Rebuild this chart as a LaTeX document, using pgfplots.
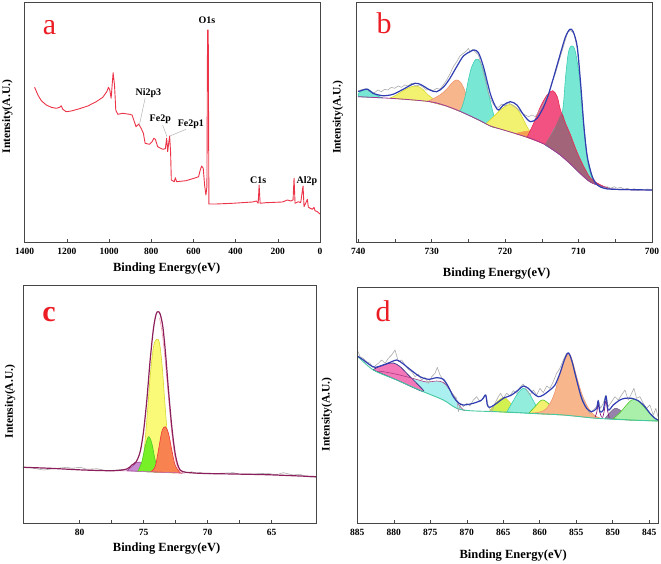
\documentclass[border=0pt]{standalone}
\usepackage{fontspec}
\setmainfont{Liberation Serif}
\usepackage{pgfplots}
\pgfplotsset{compat=1.18}

\definecolor{framegray}{RGB}{70,70,70}
\definecolor{surveyred}{RGB}{236,52,72}
\definecolor{lettred}{RGB}{236,28,36}
\definecolor{envblue}{RGB}{48,62,178}
\definecolor{rawgray}{RGB}{172,172,172}
\definecolor{bgpurple}{RGB}{160,60,150}
\definecolor{cyanfill}{RGB}{120,232,212}
\definecolor{cyanline}{RGB}{60,205,180}
\definecolor{yelfill}{RGB}{242,242,112}
\definecolor{yelline}{RGB}{215,215,50}
\definecolor{orfill}{RGB}{248,182,140}
\definecolor{orline}{RGB}{240,150,110}
\definecolor{or2fill}{RGB}{245,160,80}
\definecolor{pinkfill}{RGB}{242,82,130}
\definecolor{pinkline}{RGB}{232,40,80}
\definecolor{brownfill}{RGB}{162,100,120}
\definecolor{grfill}{RGB}{125,230,70}
\definecolor{grline}{RGB}{80,200,40}
\definecolor{cenv}{RGB}{140,30,90}
\definecolor{cpurp}{RGB}{200,140,210}
\definecolor{cgreen}{RGB}{120,240,40}
\definecolor{cyel}{RGB}{250,250,120}
\definecolor{cred}{RGB}{248,130,80}
\definecolor{credline}{RGB}{240,50,60}
\definecolor{dteal}{RGB}{70,200,160}
\definecolor{dpink}{RGB}{242,120,185}
\definecolor{dcyan}{RGB}{170,240,240}
\definecolor{dyg}{RGB}{210,240,80}
\definecolor{dmauve}{RGB}{150,130,170}
\definecolor{dgreen}{RGB}{170,240,170}
\definecolor{dspike}{RGB}{130,0,110}
\definecolor{dline}{RGB}{170,60,130}

\tikzset{
  letter/.style={anchor=base, text=lettred, font=\fontsize{30}{30}\selectfont},
  peak/.style={font=\bfseries\fontsize{10}{10}\selectfont},
}
\pgfplotsset{
  xps/.style={
    scale only axis, anchor=south west, x dir=reverse,
    ytick=\empty, xtick pos=bottom, axis on top,
    axis line style={draw=framegray, line width=0.9pt},
    tick style={draw=framegray, line width=0.6pt},
    tick align=inside, major tick length=3pt, minor tick length=3pt,
    ticklabel style={font=\bfseries\fontsize{9.5}{9.5}\selectfont},
    xticklabel style={yshift=-3pt},
    /pgf/number format/assume math mode=true,
    /pgf/number format/set thousands separator={},
    xlabel style={font=\bfseries\fontsize{12.5}{12.5}\selectfont, anchor=center},
    ylabel style={font=\bfseries\fontsize{11.5}{11.5}\selectfont, anchor=center},
    every axis plot/.append style={line join=round},
  },
  comp/.style={smooth, tension=0.55, line width=0.6pt},
}

\begin{document}
\begin{tikzpicture}
\path[use as bounding box] (0pt,0pt) rectangle (661pt,563pt);

% ---------------- a: survey ----------------
\begin{axis}[xps, at={(24pt,321pt)}, width=296pt, height=240pt,
  xmin=0, xmax=1403, ymin=0, ymax=240,
  xtick={0,200,...,1400},
  xlabel={Binding Energy(eV)}, ylabel={Intensity(A.U.)},
  xlabel style={at={(axis description cs:0.482,-0.110)}},
  ylabel style={at={(axis description cs:-0.056,0.522)}}]
\addplot[surveyred, line width=0.9pt] coordinates {
(1352.7,154.7)(1337,147)(1321,141.3)(1297.5,137)(1274,134.7)(1250,133.7)(1234,134.7)
(1226.6,136.3)(1219,132.7)(1203,130.3)(1179,131)(1140,133.3)(1100.5,136)(1061,140.3)
(1029.5,144.7)(1010.6,150.3)(1002.7,154.7)(996.4,152)(990,143.7)(980.6,169.3)(974,157)
(968,132)(958.6,127.7)(935,128.7)(903.4,127.7)(890.8,127)(880,120.3)(872,115.3)
(859.3,118)(848,113.7)(837,108.7)(829,98.7)(808.8,97.7)(796,100.3)(788,103.7)
(780.4,102.7)(769.4,95.3)(745.7,92.7)(733,93.3)(726.8,103.7)(722,90.3)(717.4,98.7)
(712.6,106)(708,88.7)(704.8,62)(690.6,60.3)(685.8,64.3)(679.5,60.3)(635.4,61.3)
(588,64.3)(575.5,65.3)(567.6,72)(561,76)(553.4,73.7)(547,57)(540.8,47)(536,55.3)
(533,212)(529.7,212)(526.6,38)(493.5,38)(414.7,38.7)(320,40)(301,41)(293,38.7)
(288.5,57)(283.8,38.7)(257,39.3)(178,40)(154.5,42)(138.7,41)(127.8,42)(123,63.7)
(118.3,38.7)(102.5,40.3)(91.5,39.3)(80.4,56)(75.7,35.3)(64.7,40.3)(60,42.7)(55.2,34.7)
(36.3,32.7)(28.4,34.7)(23.6,31.3)(12.7,30.3)(0,28)};
\addplot[gray!60, line width=0.5pt] coordinates {(829,143.7)(856,117)};
\addplot[gray!60, line width=0.5pt] coordinates {(746,117)(725,105.3)};
\addplot[gray!60, line width=0.5pt] coordinates {(635,112.7)(711,106)};
\node[peak] at (axis cs:536,221.3) {O1s};
\node[peak] at (axis cs:813.5,149.3) {Ni2p3};
\node[peak] at (axis cs:757,123) {Fe2p};
\node[peak] at (axis cs:612,118) {Fe2p1};
\node[peak] at (axis cs:293,62) {C1s};
\node[peak] at (axis cs:61.5,61) {Al2p};
\node[letter] at (axis description cs:0.086,0.865) {a};
\end{axis}

% ---------------- b: Fe 2p ----------------
\begin{axis}[xps, at={(356pt,321pt)}, width=296pt, height=240pt,
  xmin=700, xmax=740.3, ymin=0, ymax=240,
  xtick={700,710,...,740}, minor x tick num=1,
  xlabel={Binding Energy(eV)}, ylabel={Intensity(A.U.)},
  xlabel style={at={(axis description cs:0.475,-0.130)}},
  ylabel style={at={(axis description cs:-0.061,0.52)}}]
% small cyan
\addplot[comp, fill=cyanfill, draw=cyanline] coordinates {
(740,148)(739.36,152)(738.68,152.7)(737.99,149.3)(737.2,145.5)(736.8,144.2)(740,145.3)} -- cycle;
% yellow 732
\addplot[comp, fill=yelfill, draw=yelline] coordinates {
(735.71,143.7)(734.80,147)(733.89,151.3)(732.98,154.7)(732.16,156)(731.38,153.7)
(730.47,147)(729.56,142)(728.6,137.5)(730.2,140.3)(734.8,143.3)} -- cycle;
% green
\addplot[comp, fill=grfill, draw=grline] coordinates {
(730.24,140.3)(728.87,141.3)(727.51,142)(726.37,139.3)(725.23,135.3)(723.86,129.3)
(722.49,122)(721.4,114.5)(722.0,116)(723.4,121.3)(725.7,129.3)(728.0,136)} -- cycle;
% orange 726
\addplot[comp, fill=orfill, draw=orline] coordinates {
(730.5,140.7)(728.87,147)(727.96,152.7)(727.28,158.7)(726.68,162)(726.14,160.3)
(725.68,154.7)(725.0,142)(724.31,133.7)(723.63,127)(723.0,119.8)(723.4,121.3)
(725.7,129.3)(728.0,136)} -- cycle;
% cyan 723.7
\addplot[comp, fill=cyanfill, draw=cyanline] coordinates {
(726.2,131)(725.91,134)(725.45,145.3)(725.0,162)(724.54,175.3)(723.95,182.7)(723.40,180.3)
(722.85,168.7)(722.26,148.7)(721.67,130.3)(721.12,117)(720.8,113.5)(722.0,116)
(723.4,121.3)(725.7,129.3)} -- cycle;
% yellow 719
\addplot[comp, fill=yelfill, draw=yelline] coordinates {
(722.6,118.3)(721.58,125.3)(720.67,132)(719.75,136.7)(719.07,137.3)(718.39,133.7)
(717.70,125.3)(717.02,115.3)(716.33,107)(716.0,102)(716.6,103.7)(718.4,108)
(720.2,112)(722.0,116)} -- cycle;
% small orange 716
\addplot[comp, fill=or2fill, draw=or2fill] coordinates {
(718.6,108.5)(717.47,110.3)(716.56,111)(715.65,108.7)(714.73,100.3)(714.05,95.3)
(713.8,93.7)(714.7,98)(716.6,103.7)(718.4,108)} -- cycle;
% pink 713.5
\addplot[comp, fill=pinkfill, draw=pinkline] coordinates {
(717.02,104.7)(716.11,118.7)(715.19,135.3)(714.28,147)(713.51,151.3)(712.91,145.3)
(712.46,132)(711.77,118.7)(711.09,107)(710.41,93.7)(709.72,82)(709.04,72)(708.35,63.7)
(707.44,58.7)(706.53,55.3)(706.0,54.2)(707.0,56)(708.4,60)(709.7,68)(711.1,78)
(712.5,87)(713.8,93.7)(714.7,98)(716.6,103.7)} -- cycle;
% cyan 711
\addplot[comp, fill=cyanfill, draw=cyanline] coordinates {
(714.51,96.5)(713.37,112)(712.23,129)(711.77,165)(711.4,188.7)(711.0,196)(710.50,192)
(709.95,168.7)(709.49,135.3)(709.04,98.7)(708.58,73.7)(707.90,60.3)(706.99,56.7)
(706.5,55)(707.0,56)(708.4,60)(709.7,68)(711.1,78)(712.5,87)(713.8,93.7)} -- cycle;
% overlap of pink and cyan
\addplot[comp, fill=brownfill, draw=none] coordinates {
(714.6,97.5)(713.37,112)(712.3,128.5)(711.77,118.7)(711.09,107)(710.41,93.7)(709.72,82)
(709.04,72)(708.35,63.7)(707.44,58.7)(706.53,55.3)(706.0,54.2)(707.0,56)(708.4,60)
(709.7,68)(711.1,78)(712.5,87)(713.8,93.7)} -- cycle;
\addplot[comp, pinkline] coordinates {
(712.3,128.5)(711.77,118.7)(711.09,107)(710.41,93.7)(709.72,82)(709.04,72)(708.35,63.7)
(707.44,58.7)(706.53,55.3)(706.0,54.2)};
% background
\addplot[bgpurple, line width=0.8pt, smooth] coordinates {
(740.0,145.3)(734.8,143.3)(730.2,140.3)(728.0,136)(725.7,129.3)(723.4,121.3)(722.0,116)
(720.2,112)(718.4,108)(716.6,103.7)(714.7,98)(713.8,93.7)(712.5,87)(711.1,78)(709.7,68)
(708.4,60)(707.0,56)(705.6,53.3)(704.2,52.3)(700.0,52)};
% raw data
\addplot[rawgray, line width=0.6pt] coordinates {
(740.00,151.3)(739.36,152.7)(738.91,153.3)(738.45,150.3)(737.77,149.3)(737.31,152)
(736.85,150.3)(736.40,152.7)(735.94,152)(735.49,154.7)(735.03,153.7)(734.57,156)
(734.12,154.7)(733.66,157)(733.21,156)(732.75,158.7)(732.16,156)(731.61,157)
(731.15,154.7)(730.70,152)(730.24,152.7)(729.79,151.3)(729.33,153.7)(728.87,152.7)
(728.42,157)(727.96,162)(727.51,168)(727.05,175.3)(726.59,180.3)(726.14,186)
(725.68,188.7)(725.23,191.3)(725.00,193.7)(724.77,190.3)(724.40,192.7)(724.09,190.3)
(723.63,187)(723.17,175.3)(722.72,162)(722.26,148.7)(721.81,140.3)(721.35,135.3)
(720.89,134.7)(720.44,138)(719.98,136)(719.53,139.3)(719.07,137)(718.61,134.7)
(718.16,132)(717.70,128.7)(717.25,127)(716.79,125.3)(716.33,127)(715.88,125.3)
(715.42,130.3)(714.97,135.3)(714.51,142)(714.05,148.7)(713.60,160.3)(713.14,168.7)
(712.69,180.3)(712.00,197)(711.45,210.3)(711.09,211.3)(710.63,208.7)(710.18,193.7)
(709.72,157)(709.27,113.7)(708.81,83.7)(708.13,65.3)(707.44,57)(706.76,54.3)
(706.07,55.3)(705.62,53.7)(705.16,55.3)(704.71,53.7)(704.25,54.7)(703.79,52.7)
(703.34,53.7)(702.88,52)(702.43,53.3)(701.97,51.3)(701.51,52.7)(701.06,52)(700.60,53)(700.00,52)};
% envelope
\addplot[envblue, line width=1.2pt, smooth, tension=0.5] coordinates {
(740.0,150.3)(739.36,152)(738.68,152.7)(737.99,148.7)(736.63,146.3)(735.26,147.7)
(733.89,152.7)(732.29,158.7)(731.38,157)(730.24,152)(729.33,150.3)(728.42,154.7)
(727.51,163.7)(726.59,175.3)(725.68,186)(724.77,190.3)(724.22,192)(723.63,189.3)
(722.95,175.3)(722.03,148.7)(721.35,136)(720.89,132)(720.21,137)(719.30,140.3)
(718.39,137)(717.47,127)(716.56,120.3)(715.65,123.7)(714.74,135.3)(714.05,148.7)
(713.37,165.3)(712.46,188.7)(711.77,205.3)(711.18,212.7)(710.73,210.3)(710.18,195.3)
(709.72,158.7)(709.27,115.3)(708.81,85.3)(708.13,65.3)(707.44,57)(706.53,53.7)
(705.16,52.7)(700.0,52)};
\node[letter] at (axis description cs:0.095,0.867) {b};
\end{axis}

% ---------------- c: Al 2p ----------------
\begin{axis}[xps, at={(23pt,40pt)}, width=293pt, height=238pt,
  xmin=61.54, xmax=84.42, ymin=0, ymax=238,
  xtick={65,70,75,80}, minor x tick num=1,
  xlabel={Binding Energy(eV)}, ylabel={Intensity(A.U.)},
  xlabel style={at={(axis description cs:0.490,-0.106)}},
  ylabel style={at={(axis description cs:-0.044,0.51)}}]
\addplot[comp, fill=cyel, draw=yelline] coordinates {
(75.4,51.6)(75.27,53)(75.01,66.3)(74.75,103)(74.49,146.3)(74.23,176.3)(73.97,183.7)
(73.76,179.7)(73.55,156.3)(73.32,116.3)(73.06,76.3)(72.80,56.3)(72.54,50.3)
(73.5,50.7)(74.5,51.2)} -- cycle;
\addplot[comp, fill=cpurp, draw=bgpurple] coordinates {
(76.31,52.3)(75.92,56.3)(75.58,60.3)(75.32,61)(75.06,58)(74.75,53.7)(74.49,51.3)
(75.5,51.7)} -- cycle;
\addplot[comp, fill=cgreen, draw=grline] coordinates {
(75.5,51.7)(75.40,53)(75.14,61.3)(74.88,76.3)(74.62,86.3)(74.36,79.7)(74.10,63)
(73.84,52.3)(73.7,50.9)(74.5,51.2)} -- cycle;
\addplot[comp, fill=cred, draw=credline] coordinates {
(74.45,51.2)(74.10,56.3)(73.84,73)(73.58,91.3)(73.32,96.3)(73.06,89.7)(72.80,73)
(72.54,58)(72.15,50.3)(72.0,49.9)(72.5,50.2)(73.5,50.7)} -- cycle;
\addplot[bgpurple!70, line width=0.6pt] coordinates {
(76.8,52.3)(75.5,51.7)(74.5,51.2)(73.5,50.7)(72.5,50.2)(71.8,49.8)};
\addplot[rawgray, line width=0.6pt] coordinates {
(84.42,56.3)(83.59,54.7)(82.81,53)(82.03,54.3)(80.99,55.7)(80.60,54.7)(79.95,55.7)
(79.43,53.7)(78.65,54.3)(77.87,52.3)(77.09,53)(76.57,53.7)};
\addplot[rawgray, line width=0.6pt] coordinates {
(71.94,52)(71.63,50.3)(71.24,51.3)(70.98,49.7)(70.59,50.3)(69.81,49)(69.03,49.7)
(67.99,50.3)(67.47,48.7)(66.43,49)(65.39,49.7)(64.61,48.3)(64.09,50.3)(63.31,48)
(62.79,48.7)(62.27,46.3)(61.54,45.7)};
\addplot[pinkline!45, line width=0.6pt, smooth, tension=0.5] coordinates {
(73.76,205)(73.55,190)(73.32,163)(73.06,126)(72.80,90)(72.54,65)(72.28,54)(71.94,50.5)};
\addplot[cenv, line width=1.2pt, smooth, tension=0.5] coordinates {
(84.42,55.7)(82.29,54.7)(79.69,53)(77.35,52.3)(76.31,54)(75.92,58)(75.58,61.3)
(75.27,71.3)(75.01,91.3)(74.75,123)(74.49,163)(74.23,194.7)(74.02,209)(73.87,211.3)
(73.71,209)(73.50,196.3)(73.29,169.7)(73.06,133)(72.80,96.3)(72.54,69.7)(72.28,56.3)
(71.94,51.3)(70.59,49.7)(67.99,49)(65.39,48.3)(62.79,47)(61.54,46.3)};
\node[letter, font=\bfseries\fontsize{30}{30}\selectfont] at (axis description cs:0.089,0.846) {c};
\end{axis}

% ---------------- d: Ni 2p ----------------
\begin{axis}[xps, at={(357pt,40pt)}, width=301pt, height=236pt,
  xmin=843.8, xmax=885.05, ymin=0, ymax=236,
  xtick={845,850,...,885},
  xlabel={Binding Energy(eV)}, ylabel={Intensity(A.U.)},
  xlabel style={at={(axis description cs:0.519,-0.136)}},
  ylabel style={at={(axis description cs:-0.100,0.46)}}]
\addplot[comp, fill=dcyan, draw=none] coordinates {
(882.3,151)(881.89,151.8)(879.61,148.7)(877.33,144.5)(875.50,141)(874.13,142)
(873.22,140.5)(872.53,135)(871.85,128)(871.16,119)(870.48,113)(870.2,112.6)
(871.39,114.7)(873.22,123)(875.96,131.3)(879.61,143)(881.89,149.6)} -- cycle;
\addplot[comp, fill=dpink, draw=envblue!70!black] coordinates {
(882.81,153.5)(882.0,156.5)(881.0,159)(880.07,160)(879.16,156.5)(878.01,148)
(876.87,139.7)(875.96,131.3)(879.61,143)(882.81,153)} -- cycle;
\addplot[comp, dline] coordinates {
(882.3,151)(881.89,151.8)(879.61,148.7)(877.33,144.5)(875.50,141)(874.13,142)
(873.22,140.5)(872.53,135)(871.85,128)(871.16,119)(870.48,113)(870.2,112.6)};
\addplot[comp, fill=dyg, draw=yelline] coordinates {
(866.9,111.6)(866.14,119)(865.46,123.7)(864.91,125.7)(864.32,122.3)(863.63,116.3)
(863.0,110.5)(865.91,111.3)} -- cycle;
\addplot[comp, fill=cyanfill!80!white, draw=cyanline] coordinates {
(864.5,111.1)(863.63,122.3)(862.95,130.3)(862.26,134.7)(861.58,131.3)(860.89,122.3)
(860.21,113.7)(859.52,110.3)(859.3,109.4)(861.35,109.7)} -- cycle;
\addplot[comp, fill=yelfill, draw=grline] coordinates {
(861.5,109.8)(860.66,116.3)(859.98,121.7)(859.52,123)(858.84,119.7)(858.15,113.7)
(857.24,109)(856.9,108.1)(861.35,109.7)} -- cycle;
\addplot[comp, fill=orfill, draw=orline] coordinates {
(861.35,109.7)(859.98,111)(859.06,114.7)(858.15,126.3)(857.47,143)(856.78,159.7)
(856.10,169)(855.64,164.7)(854.95,146.3)(854.27,129.7)(853.58,118)(852.90,110.3)
(852.21,106.3)(851.6,104.5)(852.21,104.7)(856.78,108)} -- cycle;
\addplot[comp, fill=dmauve, draw=dmauve!80!black] coordinates {
(851.07,104.4)(850.39,110.3)(849.70,114.7)(849.02,113)(848.33,108.7)(847.65,104)
(847.3,103)(847.65,103)} -- cycle;
\addplot[comp, fill=dgreen, draw=grline] coordinates {
(849.93,104.2)(849.02,110.3)(848.11,118)(847.42,123)(846.74,123)(846.05,119)
(845.14,111.3)(844.22,105)(843.81,103)(843.81,102)(847.65,103)} -- cycle;
\addplot[comp, dspike] coordinates {
(852.44,105.7)(852.21,110.3)(851.99,118)(851.76,110.3)(851.53,105.7)};
\addplot[comp, dspike] coordinates {
(851.39,105)(851.16,112.3)(850.94,122.3)(850.71,112.3)(850.48,105)};
\addplot[dteal, line width=0.9pt, smooth] coordinates {
(885,167)(882.81,153)(879.61,143)(875.96,131.3)(873.22,123)(871.39,114.7)(869.57,112.3)
(865.91,111.3)(861.35,109.7)(856.78,108)(852.21,104.7)(847.65,103)(843.81,102)};
\addplot[rawgray, line width=0.6pt] coordinates {
(885.00,173)(884.63,166.3)(884.18,164.7)(883.72,161.3)(883.26,159.7)(882.90,155.7)
(882.58,157)(882.12,159.7)(881.67,163)(881.21,159.7)(880.75,164.7)(880.30,168)
(879.84,173)(879.38,161.3)(878.93,163)(878.47,158)(878.01,153.7)(877.56,151.3)
(877.10,146.3)(876.64,149)(876.19,143)(875.73,145.7)(875.27,139.7)(874.82,146.3)
(874.36,149.7)(874.04,155.7)(873.68,148)(873.22,143)(872.76,138)(872.31,133)
(871.85,128)(871.39,124.7)(871.16,111.3)(870.84,119.7)(870.48,116.3)(870.02,119.7)
(869.57,117)(869.11,123)(868.65,126.3)(868.20,121.3)(867.74,124.7)(867.37,128)
(867.05,116.3)(866.60,111.3)(866.14,119.7)(865.68,126.3)(865.37,129.7)(865.00,124.7)
(864.54,129.7)(864.09,127)(863.63,132.3)(863.17,129.7)(862.72,135.7)(862.26,139)
(861.80,133)(861.35,128)(860.89,133)(860.43,128)(859.98,134.7)(859.52,130.3)
(859.06,137)(858.61,134.7)(858.15,141.3)(857.69,149.7)(857.24,154.7)(856.78,163)
(856.32,169.7)(855.87,168)(855.41,158)(854.95,144.7)(854.50,131.3)(854.04,123)
(853.58,114.7)(853.13,109.7)(852.67,113)(852.21,116.3)(851.99,123)(851.67,114.7)
(851.30,119.7)(850.94,128)(850.62,116.3)(850.16,121.3)(849.70,126.3)(849.25,123)
(848.79,128)(848.33,133)(847.88,123)(847.42,129.7)(847.10,134.7)(846.74,124.7)
(846.28,126.3)(845.82,119.7)(845.37,114.7)(844.91,118)(844.45,108)(844.09,114.7)(843.81,106.3)};
\addplot[envblue, line width=1.2pt, smooth, tension=0.5] coordinates {
(885.00,167)(884.18,163)(883.26,158)(882.58,155.7)(881.44,158)(880.30,161.3)
(879.61,163)(878.93,160.3)(877.79,153.7)(876.42,146.3)(875.27,143.7)(874.13,145.3)
(873.22,143.7)(872.53,136.3)(871.85,126.3)(871.16,120.3)(870.48,118)(869.11,119.7)
(867.97,123)(867.42,128)(867.19,118)(866.83,115.7)(865.91,119.7)(865.00,124.7)
(863.86,128)(862.95,133)(862.26,137)(861.58,134.7)(860.89,129.7)(860.21,126.3)
(859.52,128)(858.61,133)(857.92,138)(857.24,149.7)(856.55,164.7)(856.10,170.3)
(855.64,163)(854.95,143)(854.27,124.7)(853.58,114.7)(852.90,111.3)(852.21,114.7)
(851.99,122.3)(851.76,111.3)(851.30,113)(850.94,127)(850.62,113)(849.93,118)
(849.02,123)(848.33,124.7)(847.42,124.7)(846.51,122.3)(845.59,116.3)(844.91,109.7)
(844.22,104.7)(843.81,103)};
\node[letter] at (axis description cs:0.087,0.853) {d};
\end{axis}
\end{tikzpicture}
\end{document}
